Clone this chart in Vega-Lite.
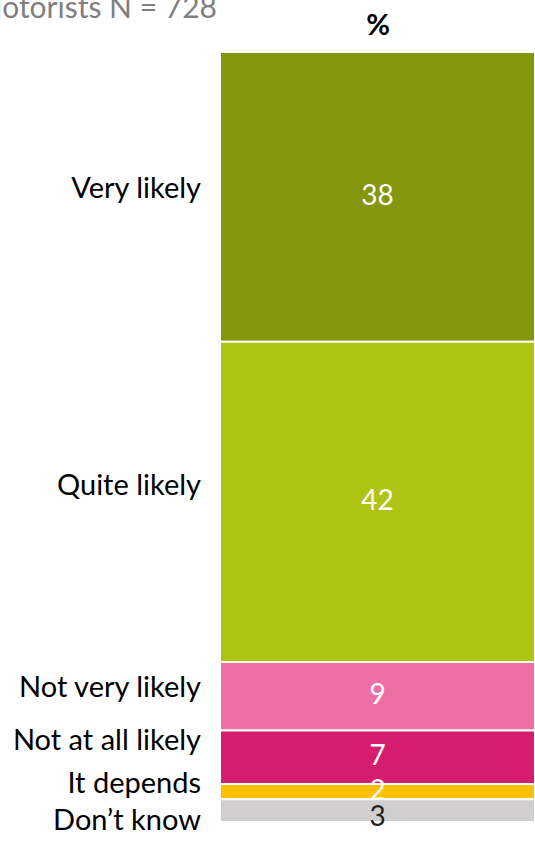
{
  "$schema": "https://vega.github.io/schema/vega-lite/v6.json",
  "width": 315,
  "height": 770,
  "autosize": {"type": "none"},
  "padding": {"left": 220, "top": 52, "right": 0, "bottom": 19},
  "background": "white",
  "title": {
    "text": "Motorists N = 728",
    "anchor": "start",
    "align": "right",
    "frame": "group",
    "dx": -3,
    "dy": 37,
    "font": "Lato",
    "fontSize": 30,
    "fontWeight": "normal",
    "color": "#7f7f7f",
    "baseline": "alphabetic",
    "offset": 0
  },
  "config": {"view": {"stroke": null}, "font": "Lato"},
  "data": {
    "values": [
      {"response": "Very likely", "pct": 38, "rank": 1},
      {"response": "Quite likely", "pct": 42, "rank": 2},
      {"response": "Not very likely", "pct": 9, "rank": 3},
      {"response": "Not at all likely", "pct": 7, "rank": 4},
      {"response": "It depends", "pct": 2, "rank": 5},
      {"response": "Don’t know", "pct": 3, "rank": 6}
    ]
  },
  "transform": [
    {"stack": "pct", "groupby": [], "sort": [{"field": "rank", "order": "ascending"}], "as": ["y0", "y1"]},
    {"calculate": "(datum.y0 + datum.y1) / 2", "as": "mid"}
  ],
  "encoding": {
    "x": {
      "datum": "all",
      "type": "nominal",
      "scale": {"paddingInner": 0, "paddingOuter": 0},
      "axis": {
        "orient": "top",
        "title": "%",
        "labels": false,
        "ticks": false,
        "domain": false,
        "titleFont": "Lato",
        "titleFontSize": 29,
        "titleFontWeight": "bold",
        "titleColor": "#000000",
        "titlePadding": 12
      }
    }
  },
  "layer": [
    {
      "mark": {"type": "bar", "stroke": "white", "strokeWidth": 2},
      "encoding": {
        "y": {"field": "y0", "type": "quantitative", "scale": {"domain": [0, 101], "reverse": true, "nice": false}, "axis": null},
        "y2": {"field": "y1"},
        "color": {
          "field": "response",
          "type": "nominal",
          "scale": {
            "domain": ["Very likely", "Quite likely", "Not very likely", "Not at all likely", "It depends", "Don’t know"],
            "range": ["#84960E", "#AFC313", "#EC70A5", "#D61C6C", "#FFC000", "#D0CECF"]
          },
          "legend": null
        }
      }
    },
    {
      "transform": [{"filter": "datum.response !== 'Don’t know'"}],
      "mark": {"type": "text", "color": "white", "fontSize": 28, "baseline": "middle", "align": "center", "font": "Lato"},
      "encoding": {
        "y": {"field": "mid", "type": "quantitative"},
        "text": {"field": "pct", "type": "quantitative"}
      }
    },
    {
      "transform": [{"filter": "datum.response === 'Don’t know'"}],
      "mark": {"type": "text", "color": "#222222", "fontSize": 28, "baseline": "middle", "align": "center", "font": "Lato", "dy": 7},
      "encoding": {
        "y": {"field": "mid", "type": "quantitative"},
        "text": {"field": "pct", "type": "quantitative"}
      }
    },
    {
      "transform": [{"filter": "indexof(['Very likely','Not very likely','It depends'], datum.response) >= 0"}],
      "mark": {"type": "text", "color": "black", "fontSize": 29, "baseline": "middle", "align": "right", "font": "Lato", "dx": -19, "dy": -8},
      "encoding": {
        "x": {"datum": "all", "type": "nominal", "bandPosition": 0},
        "y": {"field": "mid", "type": "quantitative"},
        "text": {"field": "response", "type": "nominal"}
      }
    },
    {
      "transform": [{"filter": "indexof(['Quite likely','Not at all likely'], datum.response) >= 0"}],
      "mark": {"type": "text", "color": "black", "fontSize": 29, "baseline": "middle", "align": "right", "font": "Lato", "dx": -19, "dy": -16},
      "encoding": {
        "x": {"datum": "all", "type": "nominal", "bandPosition": 0},
        "y": {"field": "mid", "type": "quantitative"},
        "text": {"field": "response", "type": "nominal"}
      }
    },
    {
      "transform": [{"filter": "datum.response === 'Don’t know'"}],
      "mark": {"type": "text", "color": "black", "fontSize": 29, "baseline": "middle", "align": "right", "font": "Lato", "dx": -19, "dy": 10},
      "encoding": {
        "x": {"datum": "all", "type": "nominal", "bandPosition": 0},
        "y": {"field": "mid", "type": "quantitative"},
        "text": {"field": "response", "type": "nominal"}
      }
    }
  ]
}
